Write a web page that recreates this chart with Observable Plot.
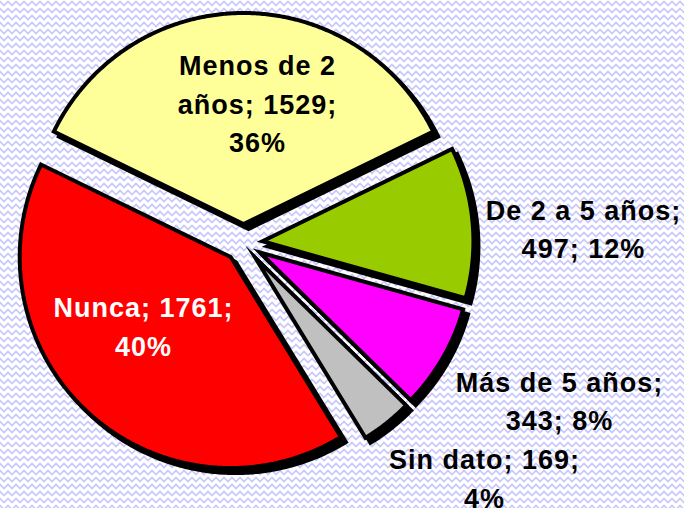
<!DOCTYPE html>
<html><head><meta charset="utf-8">
<script src="https://cdn.jsdelivr.net/npm/d3@7"></script>
<script src="https://cdn.jsdelivr.net/npm/@observablehq/plot@0.6"></script>
<style>
html,body{margin:0;padding:0;}
body{width:684px;height:508px;overflow:hidden;background:#fff url("data:image/svg+xml,%3Csvg xmlns='http://www.w3.org/2000/svg' width='8' height='7'%3E%3Cpath d='M-4,5.5 L0,1.5 L4,5.5 L8,1.5 L12,5.5' fill='none' stroke='%23c8c8fa' stroke-width='1.6'/%3E%3C/svg%3E") repeat;}
#chart svg{display:block;}
</style></head><body><div id="chart"></div>
<script>
// ---- data ----
const categories = ["Menos de 2 años", "De 2 a 5 años", "Más de 5 años", "Sin dato", "Nunca"];
const counts = [1529, 497, 343, 169, 1761];
const percents = [36, 12, 8, 4, 40];
const colors = ["#ffff99", "#99cc00", "#ff00ff", "#c0c0c0", "#ff0000"];
const labelColors = ["black", "black", "black", "black", "white"];
const wordsPerLine = [[3, 2, 1], [5, 2], [4, 2], [3, 1], [2, 1]];

// ---- layout ----
const startDeg = -64;     // first slice start (clockwise from 12 o'clock)
const explode = 0.09;     // in radius units
const labelAt = [[0.066, 0.671], [1.611, 0.078], [1.498, -0.737], [1.142, -1.105], [-0.474, -0.385]];

const pie = d3.pie().sort(null).value(d => d)
  .startAngle(startDeg * Math.PI / 180).endAngle(startDeg * Math.PI / 180 + 2 * Math.PI);
const arcs = pie(counts);

const slices = arcs.map((a, i) => {
  const mid = (a.startAngle + a.endAngle) / 2;
  const cx = explode * Math.sin(mid), cy = explode * Math.cos(mid);
  const n = Math.max(2, Math.ceil((a.endAngle - a.startAngle) / (0.5 * Math.PI / 180)));
  const pts = [{x: cx, y: cy}];
  for (let k = 0; k <= n; k++) {
    const t = a.startAngle + (a.endAngle - a.startAngle) * k / n;
    pts.push({x: cx + Math.sin(t), y: cy + Math.cos(t)});
  }
  return pts;
});

const labels = categories.map((c, i) => {
  const words = `${c}; ${counts[i]}; ${percents[i]}%`.split(" ");
  let p = 0;
  return wordsPerLine[i].map(n => { const s = words.slice(p, p + n).join(" "); p += n; return s; }).join("\n");
});
const labelData = labels.map((t, i) => ({text: t, x: labelAt[i][0], y: labelAt[i][1], color: labelColors[i]}));

const W = 684, H = 508, K = 211, CX = 243, CY = 242.5;

const chart = Plot.plot({
  width: W, height: H,
  margin: 0,
  style: {background: "transparent", overflow: "visible"},
  x: {domain: [-CX / K, (W - CX) / K], range: [0, W], axis: null},
  y: {domain: [-(H - CY) / K, CY / K], range: [H, 0], axis: null},
  marks: [
    ...slices.map(pts => Plot.line(pts, {x: "x", y: "y", curve: "linear-closed", fill: "black", stroke: "black",
      strokeWidth: 4, strokeLinejoin: "miter", strokeMiterlimit: 10, dx: 5, dy: 5})),
    ...slices.map((pts, i) => Plot.line(pts, {x: "x", y: "y", curve: "linear-closed", fill: colors[i], stroke: "black",
      strokeWidth: 4, strokeLinejoin: "miter", strokeMiterlimit: 10})),
    Plot.text(labelData, {x: "x", y: "y", text: "text", fill: "color", fontSize: 27, fontWeight: "bold",
      fontFamily: "Liberation Sans, Arial, sans-serif", lineHeight: 1.42, textAnchor: "middle"})
  ]
});
chart.querySelectorAll("text").forEach(t => t.style.letterSpacing = "1px");
document.getElementById("chart").appendChild(chart);
</script>
</body></html>
